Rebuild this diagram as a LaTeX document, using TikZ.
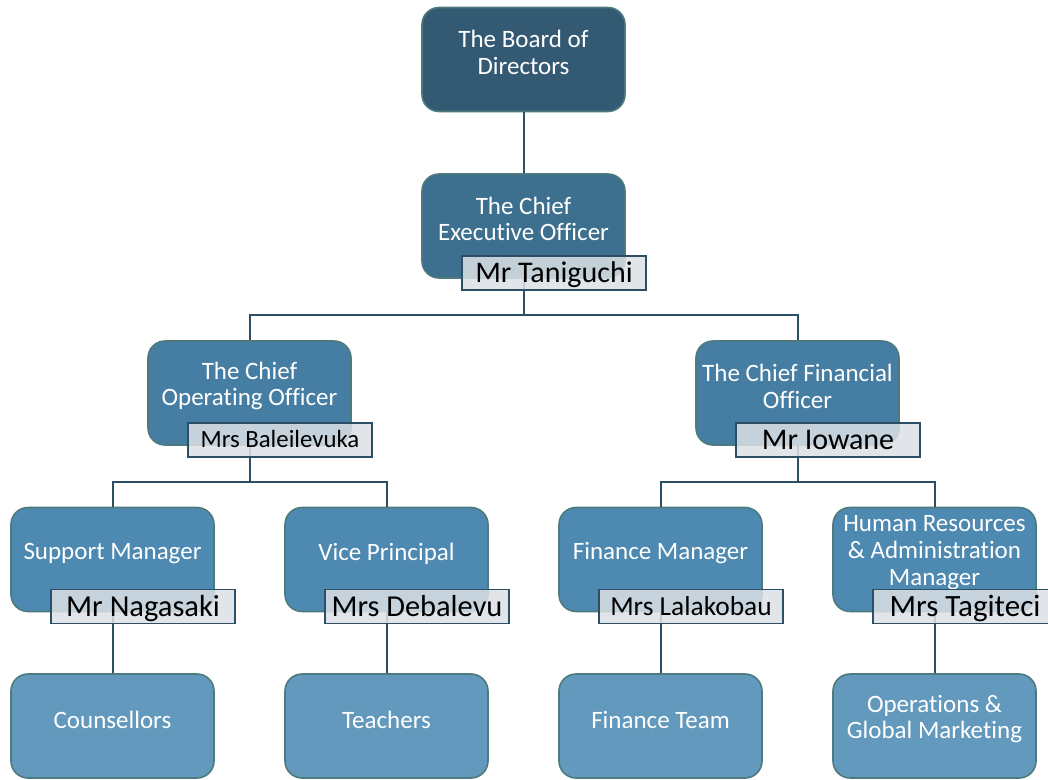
\documentclass[tikz,border=0pt]{standalone}
\usepackage{fontspec}
\setmainfont{Carlito}[Ligatures=NoCommon]
\definecolor{cA}{HTML}{345A73}
\definecolor{cB}{HTML}{3D6F8F}
\definecolor{cC}{HTML}{467EA3}
\definecolor{cD}{HTML}{4D89B1}
\definecolor{cE}{HTML}{6399BD}
\definecolor{bord}{HTML}{4D7B7D}
\definecolor{conncol}{HTML}{2C4F66}
\definecolor{tagfill}{HTML}{DCE1E5}
\begin{document}
\begin{tikzpicture}[x=1pt,y=-1pt,
  box/.style={draw=bord, line width=1.6pt, rounded corners=17pt, minimum width=203pt, minimum height=104pt, inner sep=0pt},
  txt/.style={text=white, align=center, font=\fontsize{25}{26.8}\selectfont, inner sep=0pt},
  tag/.style={draw=conncol, line width=1.4pt, fill=tagfill, fill opacity=0.85, text opacity=1, text=black, minimum width=184pt, minimum height=34pt, inner sep=0pt,
    font=\fontsize{#1}{#1}\selectfont, text height={0.64*#1pt}, text depth=0pt},
  conn/.style={draw=conncol, line width=2pt}]
\useasboundingbox (0,0) rectangle (1048,779);
% boxes
\node[box, fill=cA] (bod) at (523.5,59.5) {};
\node[box, fill=cB] (ceo) at (523.5,226) {};
\node[box, fill=cC] (coo) at (249.5,393) {};
\node[box, fill=cC] (cfo) at (797.5,393) {};
\node[box, fill=cD] (sm) at (112.5,559.5) {};
\node[box, fill=cD] (vp) at (386.5,559.5) {};
\node[box, fill=cD] (fm) at (660.5,559.5) {};
\node[box, fill=cD] (hr) at (934.5,559.5) {};
\node[box, fill=cE] (co) at (112.5,726) {};
\node[box, fill=cE] (te) at (386.5,726) {};
\node[box, fill=cE] (ft) at (660.5,726) {};
\node[box, fill=cE] (og) at (934.5,726) {};
% texts
\node[txt] (bodt) at ([yshift=7pt]bod.center) {The Board of\\Directors};
\node[txt] (ceot) at ([yshift=7pt]ceo.center) {The Chief\\Executive Officer};
\node[txt] (coot) at ([yshift=7pt]coo.center) {The Chief\\Operating Officer};
\node[txt] (cfot) at ([yshift=7pt]cfo.center) {The Chief Financial\\Officer};
\node[txt] (smt) at ([yshift=6pt]sm.center) {Support Manager};
\node[txt] (vpt) at ([yshift=6pt]vp.center) {Vice Principal};
\node[txt] (fmt) at ([yshift=6pt]fm.center) {Finance Manager};
\node[txt] (hrt) at ([yshift=7pt]hr.center) {Human Resources\\\&~Administration\\Manager};
\node[txt] (cot) at ([yshift=6pt]co.center) {Counsellors};
\node[txt] (tet) at ([yshift=6pt]te.center) {Teachers};
\node[txt] (ftt) at ([yshift=6pt]ft.center) {Finance Team};
\node[txt] (ogt) at ([yshift=7pt]og.center) {Operations \&\\Global Marketing};
% connectors
\draw[conn] (bod.south) -- (ceo.north);
\draw[conn] (ceo.south) -- ++(0,36) coordinate (j1) -| (coo.north);
\draw[conn] (j1) -| (cfo.north);
\draw[conn] (coo.south) -- ++(0,36) coordinate (j2) -| (sm.north);
\draw[conn] (j2) -| (vp.north);
\draw[conn] (cfo.south) -- ++(0,36) coordinate (j3) -| (fm.north);
\draw[conn] (j3) -| (hr.north);
\draw[conn] (sm.south) -- (co.north);
\draw[conn] (vp.south) -- (te.north);
\draw[conn] (fm.south) -- (ft.north);
\draw[conn] (hr.south) -- (og.north);
% name tags
\node[tag=30] (n1) at (554,273) {Mr Taniguchi};
\node[tag=24.8] (n2) at (280,440) {Mrs Baleilevuka};
\node[tag=30] (n3) at (828,440) {Mr Iowane};
\node[tag=30.5] (n4) at (143,606.5) {Mr Nagasaki};
\node[tag=30.4] (n5) at (417,606.5) {Mrs Debalevu};
\node[tag=27.4] (n6) at (691,606.5) {Mrs Lalakobau};
\node[tag=31] (n7) at (965,606.5) {Mrs Tagiteci};
\end{tikzpicture}
\end{document}
